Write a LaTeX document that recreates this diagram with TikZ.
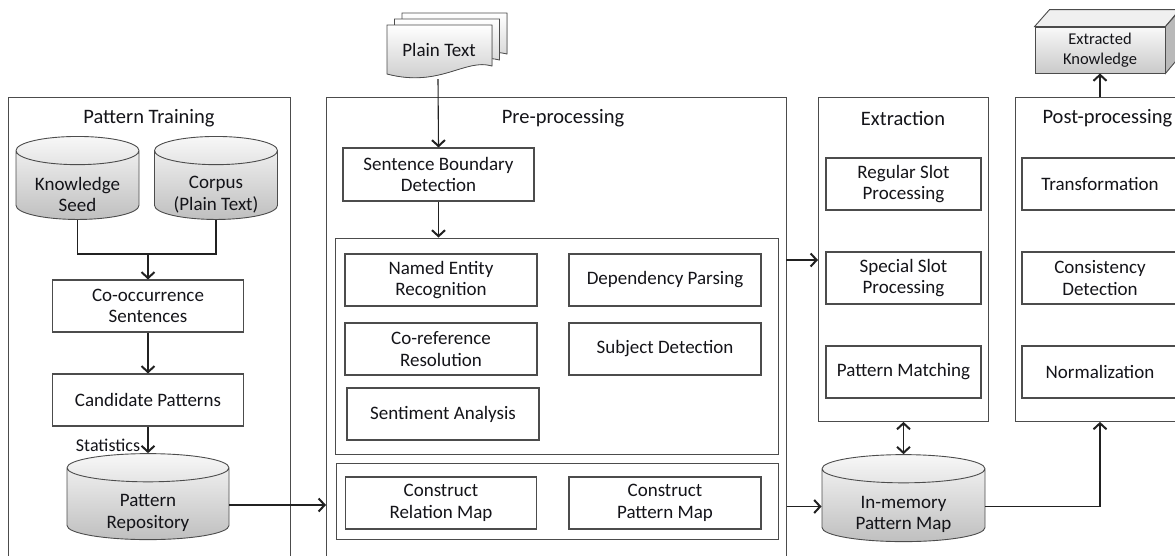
\documentclass[tikz,border=0pt]{standalone}
\usepackage{fontspec}
\setmainfont{Carlito}
\usetikzlibrary{shapes.geometric,arrows.meta,positioning}

\definecolor{LineClr}{rgb}{0.13,0.13,0.13}
\definecolor{BoxClr}{rgb}{0.3,0.3,0.3}
\definecolor{TextClr}{rgb}{0.08,0.08,0.1}

\tikzset{
  panel/.style={draw=BoxClr,line width=0.9pt,inner sep=0pt},
  task/.style={draw=BoxClr,line width=1.1pt,minimum height=52,align=center,
    text=TextClr,inner sep=1pt,font=\fontsize{19}{21.5}\selectfont},
  store/.style={cylinder,shape border rotate=90,aspect=0.3,draw=BoxClr,
    line width=0.9pt,top color=gray!6,bottom color=gray!50,inner sep=1pt},
  storetext/.style={align=center,text=TextClr,inner sep=0pt,
    font=\fontsize{19}{21.5}\selectfont,yshift=-8pt},
  title/.style={text=TextClr,font=\fontsize{20.5}{23}\selectfont},
  wire/.style={draw=LineClr,line width=1.1pt},
  barb/.tip={Straight Barb[length=6pt,width=13pt,line width=2pt]},
  flow/.style={wire,-barb},
  page/.style={draw=BoxClr,line width=0.8pt,top color=white,bottom color=gray!45}
}
% empty body that sets the size of a cylinder's ends
\newcommand{\drum}[2]{\rule{0pt}{#2pt}\hspace*{#1pt}}

\begin{document}
\begin{tikzpicture}[x=1pt,y=-1pt]
\useasboundingbox (0,0) rectangle (1175,555);
\clip (0,0) rectangle (1175,555);

% panels
\node[panel,minimum width=282,minimum height=480,anchor=north west] (train) at (8,97) {};
\node[panel,minimum width=460,minimum height=480,anchor=north west] (pre) at (326,97) {};
\node[panel,minimum width=170,minimum height=324,anchor=north west] (ext) at (818,97) {};
\node[panel,minimum width=180,minimum height=324,anchor=north west] (post) at (1015,97) {};

\node[title] (trainT) at (149,118) {Pattern Training};
\node[title] (preT) at (563,118) {Pre-processing};
\node[title] (extT) at (903,118) {Extraction};
\node[title,anchor=west] (postT) at (1039,118) {Post-processing};

% pattern training
\node[store,minimum width=123,minimum height=83] (seed) at (77.5,186.5) {\drum{92}{40}};
\node[storetext] (seedT) at (seed.center) {Knowledge\\Seed};
\node[store,minimum width=123,minimum height=83] (corpus) at (216,186.5) {\drum{92}{40}};
\node[storetext] (corpusT) at (corpus.center) {Corpus\\(Plain Text)};
\node[task,minimum width=191] (cooc) at (148,306) {Co-occurrence\\Sentences};
\node[task,minimum width=191] (cand) at (148,400) {Candidate Patterns};
\node[store,minimum width=162,minimum height=86] (repo) at (148,505) {\drum{92}{40}};
\node[storetext] (repoT) at (repo.center) {Pattern\\Repository};
\node[text=TextClr,font=\fontsize{18}{20}\selectfont] (stat) at (108,445) {Statistics};

\coordinate (join) at (148,254);
\draw[wire] (seed.south) |- (join) -| (corpus.south);
\draw[flow] (join) -- (cooc.north);
\draw[flow] (cooc) -- (cand);
\draw[flow] (cand) -- (repo.north);

% plain text input
\foreach \dx/\dy in {15/-12,7.5/-6,0/0}{
  \filldraw[page,shift={(\dx,\dy)}] (387,25) -- (492,25) -- (492,66)
    .. controls (465,58) and (440,88) .. (387,74) -- cycle;
}
\node[text=TextClr,font=\fontsize{19}{21}\selectfont] (plain) at (439,50) {Plain Text};
\coordinate (docend) at (438,79);

% pre-processing
\node[task,minimum width=191,minimum height=53] (sbd) at (438.5,174.5) {Sentence Boundary\\Detection};
\node[panel,minimum width=443,minimum height=216] (nlp) at (556.5,346) {};
\node[panel,minimum width=442,minimum height=76] (maps) at (557,501) {};

\node[task,minimum width=192] (ner) at (441,280) {Named Entity\\Recognition};
\node[task,minimum width=192] (dep) at (665,280) {Dependency Parsing};
\node[task,minimum width=192] (coref) at (441,349) {Co-reference\\Resolution};
\node[task,minimum width=192] (subj) at (665,349) {Subject Detection};
\node[task,minimum width=192] (senti) at (443,414) {Sentiment Analysis};
\node[task,minimum width=191] (relmap) at (441,503) {Construct\\Relation Map};
\node[task,minimum width=192] (patmap) at (665,503) {Construct\\Pattern Map};

\draw[flow] (docend) -- (sbd.north);
\draw[flow] (sbd.south) -- (sbd.south |- nlp.north);

% extraction
\node[task,minimum width=155] (reg) at (903.5,184) {Regular Slot\\Processing};
\node[task,minimum width=155] (spec) at (903.5,278) {Special Slot\\Processing};
\node[task,minimum width=155] (match) at (903.5,372) {Pattern Matching};
\node[store,minimum width=163,minimum height=87] (mem) at (903.5,506.5) {\drum{92}{40}};
\node[storetext] (memT) at (mem.center) {In-memory\\Pattern Map};

% post-processing
\node[task,minimum width=156] (trans) at (1100,184) {Transformation};
\node[task,minimum width=156] (cons) at (1100,278) {Consistency\\Detection};
\node[task,minimum width=156] (norm) at (1100,372) {Normalization};

% extracted knowledge box
\node[draw=BoxClr,line width=0.9pt,minimum width=130,minimum height=46,
  top color=gray!5,bottom color=gray!42,align=center,text=TextClr,
  font=\fontsize{16.5}{19.5}\selectfont] (know) at (1100,50) {Extracted\\Knowledge};
\filldraw[draw=BoxClr,line width=0.9pt,fill=gray!12] (know.north west) -- ++(15,-17)
  -- ++(130,0) -- (know.north east) -- cycle;
\filldraw[draw=BoxClr,line width=0.9pt,fill=gray!55] (know.north east) -- ++(15,-17)
  -- ++(0,46) -- (know.south east) -- cycle;

% connectors between stages
\coordinate (toext) at (786,260);
\draw[flow] (repo.east) -- (repo.east -| pre.west);
\draw[flow] (toext) -- (toext -| ext.west);
\draw[flow] (pre.east |- mem.east) -- (mem.west);
\draw[wire,barb-barb] (mem.north |- ext.south) -- (mem.north);
\draw[flow] (mem.east) -| (know.south |- post.south);
\draw[flow] (know.south |- post.north) -- (know.south);
\end{tikzpicture}
\end{document}
